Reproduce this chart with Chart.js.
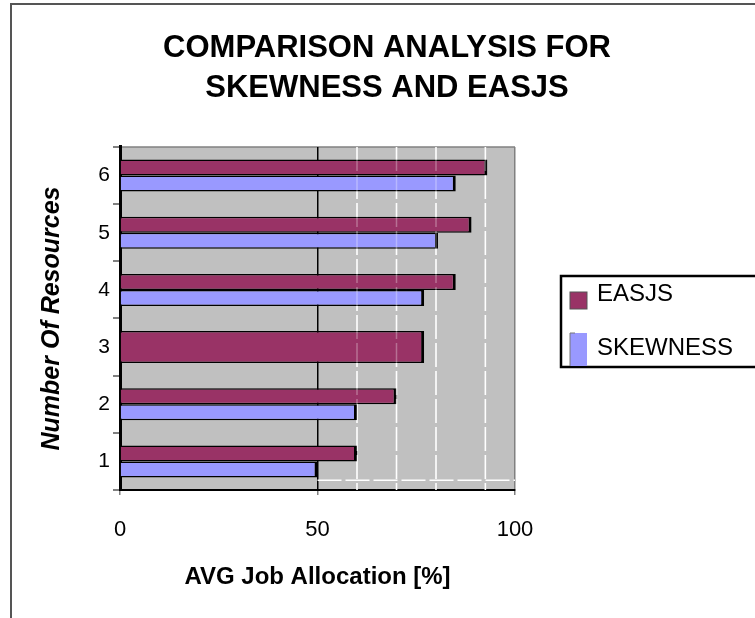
<!DOCTYPE html>
<html>
<head>
<meta charset="utf-8">
<script src="https://cdn.jsdelivr.net/npm/chart.js@4"></script>
<style>
  html, body { margin: 0; padding: 0; background: #fff; }
  #wrap { width: 755px; height: 618px; }
</style>
</head>
<body>
<div id="wrap"><canvas id="skewChart" width="755" height="618"></canvas></div>
<script>
// data
const resources = ['1', '2', '3', '4', '5', '6'];
const easjsValues = [60, 70, 77, 85, 89, 93];
const skewnessValues = [50, 60, 77, 77, 80.5, 85];
const xTicks = [0, 50, 100];
// odd white dashed marks in the plot (x values)
const dashedMarks = [60, 70, 80, 92.5];

const MAROON = '#993366';
const LAVENDER = '#9999ff';
// in the picture the SKEWNESS bar of resource 3 is drawn maroon too
const skewColors = ['#9999ff', '#9999ff', '#993366', '#9999ff', '#9999ff', '#9999ff'];

const framePlugin = {
    id: 'frame',
    beforeDraw(chart) {
        const { ctx, chartArea: a } = chart;
        ctx.save();
        ctx.fillStyle = '#fff';
        ctx.fillRect(0, 0, chart.width, chart.height);
        // outer frame (cut off at right and bottom)
        ctx.strokeStyle = '#555';
        ctx.lineWidth = 2;
        ctx.beginPath();
        ctx.moveTo(11, chart.height + 2);
        ctx.lineTo(11, 4);
        ctx.lineTo(chart.width + 2, 4);
        ctx.stroke();
        // plot background
        ctx.fillStyle = '#c0c0c0';
        ctx.fillRect(a.left, a.top, a.right - a.left, a.bottom - a.top);
        ctx.strokeStyle = '#808080';
        ctx.lineWidth = 1.5;
        ctx.beginPath();
        ctx.moveTo(a.left, a.top);
        ctx.lineTo(a.right, a.top);
        ctx.stroke();
        ctx.restore();
    },
    beforeDatasetsDraw(chart) {
        drawDashes(chart, 1);
    },
    afterDatasetsDraw(chart) {
        drawDashes(chart, 0.3);
    },
    afterDraw(chart) {
        const { ctx } = chart;
        ctx.save();
        // legend box
        ctx.strokeStyle = '#000';
        ctx.lineWidth = 2.5;
        ctx.strokeRect(561, 276, 210, 91);
        ctx.font = '24px Arial, "Liberation Sans", sans-serif';
        ctx.textBaseline = 'middle';
        ctx.textAlign = 'left';
        const ds = chart.data.datasets;
        // EASJS
        ctx.fillStyle = MAROON;
        ctx.fillRect(570, 292, 17, 17);
        ctx.strokeStyle = '#555';
        ctx.lineWidth = 1;
        ctx.strokeRect(570, 292, 17, 17);
        ctx.fillStyle = '#000';
        ctx.fillText(ds[0].label, 597, 294);
        // SKEWNESS
        ctx.fillStyle = LAVENDER;
        ctx.fillRect(570, 333, 17, 33);
        ctx.strokeStyle = '#777';
        ctx.beginPath();
        ctx.moveTo(570, 366);
        ctx.lineTo(570, 333);
        ctx.lineTo(575, 333);
        ctx.stroke();
        ctx.fillStyle = '#000';
        ctx.fillText(ds[1].label, 597, 348);
        ctx.restore();
    }
};

function drawDashes(chart, alpha) {
    const { ctx, chartArea: a, scales } = chart;
    const xs = scales.x, ys = scales.y;
    ctx.save();
    ctx.strokeStyle = 'rgba(255,255,255,' + alpha + ')';
    ctx.lineWidth = 1.5;
    ctx.setLineDash([24, 4]);
    dashedMarks.forEach(v => {
        const px = xs.getPixelForValue(v);
        ctx.beginPath();
        ctx.moveTo(px, a.top);
        ctx.lineTo(px, a.bottom);
        ctx.stroke();
    });
    if (alpha === 1) {
        const py = ys.getPixelForValue(-0.33);
        ctx.beginPath();
        ctx.moveTo(xs.getPixelForValue(50), py);
        ctx.lineTo(a.right, py);
        ctx.stroke();
    }
    ctx.restore();
}

function barBorder(seriesIdx) {
    return ctx => {
        const w = { top: 1.5, bottom: 1.5, right: 3, left: 0 };
        if (ctx.dataIndex === 2) {
            if (seriesIdx === 0) w.bottom = 0; else w.top = 0;
        }
        return w;
    };
}

const ctx = document.getElementById('skewChart').getContext('2d');
const skewChart = new Chart(ctx, {
    type: 'bar',
    data: {
        labels: resources,
        datasets: [{
            label: 'EASJS',
            data: easjsValues,
            backgroundColor: MAROON,
            borderColor: '#000',
            borderWidth: barBorder(0),
            borderSkipped: false,
            categoryPercentage: 0.56,
            barPercentage: 1.0
        }, {
            label: 'SKEWNESS',
            data: skewnessValues,
            backgroundColor: skewColors,
            borderColor: '#000',
            borderWidth: barBorder(1),
            borderSkipped: false,
            categoryPercentage: 0.56,
            barPercentage: 1.0
        }]
    },
    options: {
        indexAxis: 'y',
        responsive: false,
        animation: false,
        layout: { padding: { left: 19, right: 0, top: 0, bottom: 0 } },
        plugins: {
            legend: { display: false },
            tooltip: { enabled: false },
            title: {
                display: true,
                text: ['COMPARISON ANALYSIS FOR', 'SKEWNESS AND EASJS'],
                color: '#000',
                font: { family: 'Arial, "Liberation Sans", sans-serif', size: 31, weight: 'bold', lineHeight: 1.29 },
                padding: { top: 28.5, bottom: 38.5 }
            }
        },
        scales: {
            x: {
                min: 0,
                max: 100,
                afterBuildTicks: s => { s.ticks = xTicks.map(v => ({ value: v })); },
                afterFit: s => { s.height = 128; },
                ticks: {
                    color: '#000',
                    padding: 22,
                    font: { family: 'Arial, "Liberation Sans", sans-serif', size: 22 }
                },
                grid: {
                    color: c => (c.tick && c.tick.value === 100) ? '#808080' : '#000',
                    lineWidth: 1.5,
                    tickColor: '#808080',
                    tickLength: 5
                },
                border: { color: '#000', width: 2 },
                title: {
                    display: true,
                    text: 'AVG Job Allocation [%]',
                    color: '#000',
                    font: { family: 'Arial, "Liberation Sans", sans-serif', size: 24, weight: 'bold', lineHeight: 1.2 },
                    padding: { top: 0, bottom: 26.6 }
                }
            },
            y: {
                reverse: true,
                afterFit: s => { s.width = 101; },
                ticks: {
                    color: '#000',
                    padding: 3,
                    font: { family: 'Arial, "Liberation Sans", sans-serif', size: 21 }
                },
                grid: {
                    offset: true,
                    drawOnChartArea: false,
                    tickColor: '#808080',
                    tickLength: 7,
                    lineWidth: 2
                },
                border: { color: '#000', width: 3 },
                title: {
                    display: true,
                    text: 'Number Of Resources',
                    color: '#000',
                    font: { family: 'Arial, "Liberation Sans", sans-serif', size: 25, weight: 'bold', style: 'italic', lineHeight: 1.2 },
                    padding: { top: 18, bottom: 0 }
                }
            },
            // empty right-hand axis that keeps room for the legend
            side: {
                type: 'linear',
                position: 'right',
                display: true,
                afterFit: s => { s.width = 240; },
                grid: { display: false },
                ticks: { display: false },
                border: { display: false }
            }
        }
    },
    plugins: [framePlugin]
});
</script>
</body>
</html>
